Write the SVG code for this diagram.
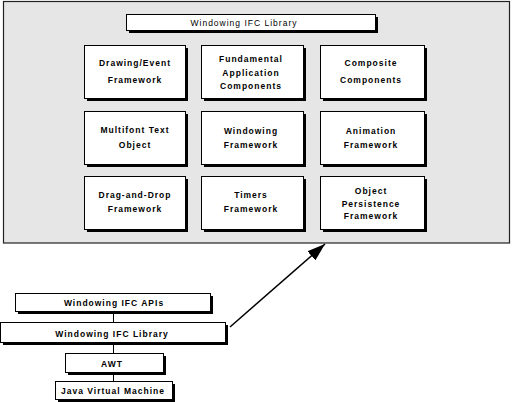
<svg xmlns="http://www.w3.org/2000/svg" width="512" height="402" viewBox="0 0 512 402">
<style>
.sh{fill:#000}
.bx{fill:#fff;stroke:#000;stroke-width:1}
.t{font-family:"Liberation Sans",Arial,sans-serif;font-size:8.5px;font-weight:bold;letter-spacing:1px;text-anchor:middle;fill:#000}
.tr{font-family:"Liberation Sans",Arial,sans-serif;font-size:8.5px;letter-spacing:1px;text-anchor:middle;fill:#000}
.ln{stroke:#000;stroke-width:1;fill:none}
</style>
<defs>
<marker id="ah" markerUnits="userSpaceOnUse" markerWidth="20" markerHeight="12" refX="18" refY="6" orient="auto">
<path d="M0,0 L18,6 L0,12 Z" fill="#000"/>
</marker>
</defs>
<g id="panel">
<rect x="3.5" y="1.5" width="506" height="241.5" fill="#e6e6e6" stroke="#222" stroke-width="1.2"/>
</g>
<g id="title">
<rect class="sh" x="129" y="17" width="249" height="16"/>
<rect class="bx" x="126.5" y="14.5" width="249" height="16"/>
<text class="tr" x="244" y="26">Windowing IFC Library</text>
</g>
<g id="n-drawing">
<rect class="sh" x="87" y="48" width="101" height="53"/>
<rect class="bx" x="84.5" y="45.5" width="101" height="53"/>
<text class="t" x="135" y="65.5">Drawing/Event</text>
<text class="t" x="135" y="83">Framework</text>
</g>
<g id="n-fundamental">
<rect class="sh" x="204" y="48" width="102" height="53"/>
<rect class="bx" x="201.5" y="45.5" width="102" height="53"/>
<text class="t" x="251" y="62">Fundamental</text>
<text class="t" x="251" y="75.5">Application</text>
<text class="t" x="251" y="89">Components</text>
</g>
<g id="n-composite">
<rect class="sh" x="323" y="48" width="104" height="53"/>
<rect class="bx" x="320.5" y="45.5" width="104" height="53"/>
<text class="t" x="371" y="66">Composite</text>
<text class="t" x="371" y="83">Components</text>
</g>
<g id="n-multifont">
<rect class="sh" x="87" y="114" width="101" height="53"/>
<rect class="bx" x="84.5" y="111.5" width="101" height="53"/>
<text class="t" x="135" y="133">Multifont Text</text>
<text class="t" x="135" y="148">Object</text>
</g>
<g id="n-windowing">
<rect class="sh" x="204" y="114" width="102" height="53"/>
<rect class="bx" x="201.5" y="111.5" width="102" height="53"/>
<text class="t" x="251" y="133.5">Windowing</text>
<text class="t" x="251" y="148">Framework</text>
</g>
<g id="n-animation">
<rect class="sh" x="323" y="114" width="104" height="53"/>
<rect class="bx" x="320.5" y="111.5" width="104" height="53"/>
<text class="t" x="371" y="133.5">Animation</text>
<text class="t" x="371" y="148">Framework</text>
</g>
<g id="n-dragdrop">
<rect class="sh" x="87" y="179" width="101" height="53"/>
<rect class="bx" x="84.5" y="176.5" width="101" height="53"/>
<text class="t" x="135" y="198">Drag-and-Drop</text>
<text class="t" x="135" y="212">Framework</text>
</g>
<g id="n-timers">
<rect class="sh" x="204" y="179" width="102" height="53"/>
<rect class="bx" x="201.5" y="176.5" width="102" height="53"/>
<text class="t" x="251" y="198">Timers</text>
<text class="t" x="251" y="212">Framework</text>
</g>
<g id="n-persistence">
<rect class="sh" x="323" y="179" width="104" height="53"/>
<rect class="bx" x="320.5" y="176.5" width="104" height="53"/>
<text class="t" x="371" y="194">Object</text>
<text class="t" x="371" y="206.5">Persistence</text>
<text class="t" x="371" y="219">Framework</text>
</g>
<g id="connectors">
<line class="ln" x1="113.5" y1="311" x2="113.5" y2="322"/>
<line class="ln" x1="113.5" y1="342" x2="113.5" y2="353"/>
<line class="ln" x1="113.5" y1="372" x2="113.5" y2="381"/>
<line x1="230" y1="327" x2="325" y2="244" stroke="#000" stroke-width="1.5" marker-end="url(#ah)"/>
</g>
<g id="n-apis">
<rect class="sh" x="18" y="296" width="195" height="18"/>
<rect class="bx" x="15.5" y="293.5" width="195" height="18"/>
<text class="t" x="114" y="306">Windowing IFC APIs</text>
</g>
<g id="n-library">
<rect class="sh" x="3" y="325" width="225" height="20"/>
<rect class="bx" x="0.5" y="322.5" width="225" height="20"/>
<text class="t" x="112" y="337">Windowing IFC Library</text>
</g>
<g id="n-awt">
<rect class="sh" x="68" y="356" width="98" height="19"/>
<rect class="bx" x="65.5" y="353.5" width="98" height="19"/>
<text class="t" x="112" y="366.5">AWT</text>
</g>
<g id="n-jvm">
<rect class="sh" x="58" y="384" width="117" height="18"/>
<rect class="bx" x="55.5" y="381.5" width="117" height="18"/>
<text class="t" x="113" y="393.5">Java Virtual Machine</text>
</g>
</svg>
